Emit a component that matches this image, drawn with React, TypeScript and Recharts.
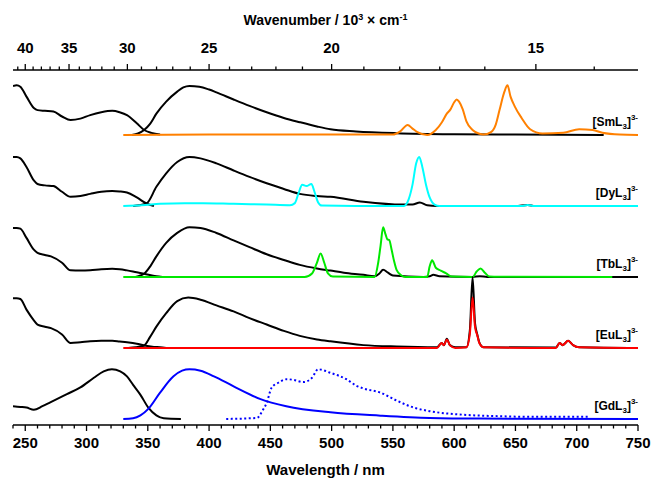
import { LineChart, Line, XAxis, YAxis, ReferenceDot } from "recharts";

type Pt = [number, number];

// [wavelength nm, normalised intensity] -- each panel is one unit tall
const smAbs: Pt[] = [[240,0.69],[243,0.7],[246,0.68],[251,0.54],[257,0.38],[260,0.35],[266,0.34],[273,0.33],[280,0.26],[287,0.21],[295,0.23],[303,0.28],[312,0.32],[321,0.34],[327,0.32],[333,0.28],[341,0.165],[347,0.07],[353,0.03],[360,0.005]];
const smLig: Pt[] = [[337,0],[342,0.02],[347,0.07],[352,0.16],[357,0.3],[365,0.47],[374,0.61],[379,0.67],[384,0.69],[392,0.68],[400,0.64],[406,0.6],[420,0.5],[433,0.41],[447,0.32],[461,0.24],[474,0.18],[488,0.12],[499,0.08],[520,0.05],[553,0.025],[600,0.01],[650,0.005],[722,0]];
const smEm: Pt[] = [[330,0],[400,0.005],[550,0.005],[556,0.05],[562,0.14],[566,0.09],[570,0.04],[578,0],[585,0.07],[590,0.18],[594,0.3],[597,0.36],[600,0.46],[602,0.5],[604,0.47],[607,0.36],[610,0.19],[615,0.07],[620,0.02],[624,0.005],[630,0.04],[634,0.15],[637,0.35],[641,0.61],[643.5,0.7],[646,0.54],[649.5,0.4],[655,0.24],[662,0.08],[672,0.02],[689,0.03],[702,0.08],[713,0.07],[721,0.03],[735,0.005],[750,0]];

const dyAbs: Pt[] = [[240,0.69],[243,0.69],[246,0.67],[251,0.55],[257,0.36],[260,0.31],[266,0.29],[273,0.28],[280,0.2],[287,0.13],[295,0.14],[303,0.17],[312,0.2],[321,0.21],[327,0.205],[333,0.19],[341,0.12],[349,0.035],[355,0]];
const dyLig: Pt[] = [[338,0],[343,0.01],[349,0.035],[357,0.27],[365,0.46],[374,0.62],[384,0.69],[393,0.67],[406,0.6],[420,0.5],[433,0.41],[447,0.32],[461,0.24],[474,0.17],[488,0.14],[499,0.13],[526,0.06],[558,0.02],[566,0.02],[572,0.05],[578,0.01],[586,0],[650,0],[660,0.015],[666,0],[740,0]];
const dyEm: Pt[] = [[330,0],[345,0.01],[360,0.03],[380,0.04],[395,0.04],[420,0.03],[447,0.02],[466,0.01],[470,0.04],[473,0.18],[476,0.3],[479.5,0.28],[483.5,0.31],[486,0.2],[489,0.05],[492,0.005],[520,0],[559,0],[563,0.1],[566,0.3],[569,0.6],[571.5,0.69],[574,0.55],[577,0.3],[580,0.12],[584,0.02],[588,0],[655,0],[660,0.015],[665,0],[750,0]];

const tbAbs: Pt[] = [[240,0.69],[243,0.69],[246,0.68],[251,0.55],[257,0.385],[260,0.34],[266,0.31],[271,0.29],[280,0.2],[287,0.093],[295,0.09],[303,0.095],[312,0.11],[321,0.117],[327,0.11],[333,0.093],[341,0.065],[347,0.045],[357,0.01],[362,0]];
const tbLig: Pt[] = [[340,0],[344,0.02],[347,0.045],[352,0.15],[357,0.29],[365,0.48],[374,0.62],[384,0.7],[393,0.69],[406,0.62],[420,0.515],[433,0.42],[447,0.32],[461,0.24],[474,0.17],[488,0.12],[499,0.09],[510,0.06],[526,0.03],[535,0.01],[539,0.05],[542,0.1],[546,0.06],[550,0.02],[575,0],[580,0.01],[583,0.03],[588,0.01],[615,0],[621,0.01],[627,0],[750,0]];
const tbEm: Pt[] = [[330,0],[478,0],[484,0.05],[488,0.2],[491,0.33],[494,0.2],[497,0.05],[501,0.005],[535,0],[538,0.2],[540,0.45],[542,0.7],[544,0.6],[545.5,0.53],[547,0.52],[549,0.38],[551,0.22],[553,0.1],[557,0.02],[560,0],[578,0],[580,0.15],[582,0.235],[585,0.13],[589,0.09],[593.5,0.05],[598,0.005],[615,0],[618.5,0.08],[621.5,0.12],[625,0.06],[629,0.005],[729,0]];

const euAbs: Pt[] = [[240,0.7],[243,0.7],[246,0.69],[251,0.54],[257,0.39],[260,0.33],[266,0.3],[271,0.28],[280,0.19],[287,0.07],[295,0.08],[303,0.093],[312,0.1],[321,0.1],[327,0.09],[333,0.08],[341,0.06],[347,0.035],[355,0.015],[360,0.01],[365,0]];
const euLig: Pt[] = [[334,0],[340,0.01],[347,0.035],[352,0.16],[357,0.3],[365,0.49],[374,0.66],[383,0.71],[393,0.68],[406,0.6],[420,0.515],[433,0.42],[447,0.33],[461,0.24],[474,0.17],[488,0.12],[499,0.093],[526,0.04],[553,0.02],[586,0.01],[589.7,0.07],[591.6,0.04],[594,0.13],[596.5,0.04],[601,0.01],[610,0.01],[612.8,0.25],[615,1.0],[617,0.35],[619,0.18],[620.5,0.08],[624,0.01],[683,0.005],[686,0.07],[688.5,0.04],[693,0.1],[697,0.04],[702,0.01],[750,0]];
const euEm: Pt[] = [[330,0],[586,0],[589.7,0.07],[591.6,0.04],[594,0.12],[596.5,0.04],[601,0],[610,0.01],[612.8,0.2],[615,0.71],[617,0.3],[619,0.17],[620.5,0.07],[624,0.01],[683,0],[686,0.07],[688.5,0.04],[693,0.1],[697,0.04],[702,0.01],[750,0]];

const gdAbs: Pt[] = [[240,0.18],[246,0.17],[251,0.16],[257,0.13],[264,0.18],[270,0.23],[284,0.35],[295,0.445],[306,0.58],[314,0.67],[320.7,0.7],[327.5,0.67],[333,0.6],[338,0.48],[344,0.34],[350.6,0.155],[357,0.05],[363,0.01],[377,0]];
const gdEm: Pt[] = [[330,0],[338,0.01],[344,0.05],[350.6,0.145],[360,0.37],[371,0.6],[378,0.68],[384,0.7],[393,0.68],[404,0.6],[420,0.46],[442,0.28],[463,0.18],[499,0.093],[540,0.046],[580,0.014],[621,0.005],[750,0]];
const gdPhos: Pt[] = [[414,0],[439,0.015],[444,0.13],[447,0.225],[451,0.44],[456.5,0.51],[463.4,0.56],[469,0.55],[477,0.52],[484,0.58],[489,0.7],[499,0.65],[512,0.56],[520,0.47],[526,0.43],[540,0.37],[553,0.26],[567,0.16],[580,0.11],[607,0.06],[635,0.04],[662,0.03],[709,0.03]];

const wavelengthTicks = [240,250,260,270,280,290,300,310,320,330,340,350,360,370,380,390,400,410,420,430,440,450,460,470,480,490,500,510,520,530,540,550,560,570,580,590,600,610,620,630,640,650,660,670,680,690,700,710,720,730,740,750];
const wavenumberTicks = [41,40,39,38,37,36,35,34,33,32,31,30,29,28,27,26,25,24,23,22,21,20,19,18,17,16,15,14];

const FONT = "'Liberation Sans', Arial, sans-serif";

const panels = [
  { name: "Sm", offset: 4, abs: smAbs, lig: smLig, em: smEm, color: "#ff8000" },
  { name: "Dy", offset: 3, abs: dyAbs, lig: dyLig, em: dyEm, color: "#00ffff" },
  { name: "Tb", offset: 2, abs: tbAbs, lig: tbLig, em: tbEm, color: "#00e800" },
  { name: "Eu", offset: 1, abs: euAbs, lig: euLig, em: euEm, color: "#ff0000" },
];

const shift = (pts: Pt[], offset: number) => pts.map(([x, v]) => ({ x, y: v + offset }));

function BottomTick({ x, y, payload }: any) {
  const v = payload.value;
  const major = v % 50 === 0;
  return (
    <g>
      <line x1={x} x2={x} y1={y} y2={y + (major ? 6 : 3.5)} stroke="#000" strokeWidth={1.3} />
      {major && (
        <text x={x} y={y + 23} textAnchor="middle" fontFamily={FONT} fontWeight="bold" fontSize={15} fill="#000">
          {v}
        </text>
      )}
    </g>
  );
}

function TopTick({ x, y, payload }: any) {
  const wn = Math.round(10000 / payload.value);
  const major = wn % 5 === 0;
  return (
    <g>
      <line x1={x} x2={x} y1={y} y2={y - (major ? 6 : 3.5)} stroke="#000" strokeWidth={1.3} />
      {major && (
        <text x={x} y={y - 17} textAnchor="middle" fontFamily={FONT} fontWeight="bold" fontSize={15} fill="#000">
          {wn}
        </text>
      )}
    </g>
  );
}

function SeriesTag({ viewBox, name }: any) {
  return (
    <text x={viewBox.x} y={viewBox.y} textAnchor="end" fontFamily={FONT} fontWeight="bold" fontSize={12} fill="#000">
      [{name}L<tspan fontSize={8} dy={3}>3</tspan>
      <tspan dy={-3}>]</tspan>
      <tspan fontSize={8} dy={-6}>3-</tspan>
    </text>
  );
}

export default function App() {
  return (
    <div style={{ position: "absolute", left: 0, top: 0, width: 653, height: 479, background: "#fff" }}>
      <LineChart width={653} height={479} margin={{ top: 30, right: 15, bottom: 14, left: 13 }}>
        <XAxis
          dataKey="x"
          type="number"
          domain={[240, 750]}
          ticks={wavelengthTicks}
          interval={0}
          allowDataOverflow
          height={40}
          tickSize={0}
          tickMargin={0}
          tickLine={false}
          tick={<BottomTick />}
          axisLine={{ stroke: "#000", strokeWidth: 1.5 }}
          label={{
            content: ({ viewBox }: any) => (
              <text x={viewBox.x + viewBox.width / 2} y={viewBox.y + 50} textAnchor="middle" fontFamily={FONT} fontWeight="bold" fontSize={15} fill="#000">
                Wavelength / nm
              </text>
            ),
          }}
        />
        <XAxis
          xAxisId="top"
          orientation="top"
          dataKey="x"
          type="number"
          domain={[240, 750]}
          ticks={wavenumberTicks.map((w) => 10000 / w)}
          interval={0}
          allowDataOverflow
          height={40}
          tickSize={0}
          tickMargin={0}
          tickLine={false}
          tick={<TopTick />}
          axisLine={{ stroke: "#000", strokeWidth: 1.5 }}
          label={{
            content: ({ viewBox }: any) => (
              <text x={viewBox.x + viewBox.width / 2} y={viewBox.y - 5} textAnchor="middle" fontFamily={FONT} fontWeight="bold" fontSize={14} fill="#000">
                Wavenumber / 10<tspan fontSize={9} dy={-5}>3</tspan>
                <tspan dy={5}> × cm</tspan>
                <tspan fontSize={9} dy={-5}>-1</tspan>
              </text>
            ),
          }}
        />
        <YAxis hide type="number" domain={[-0.085, 4.915]} allowDataOverflow />

        {panels.map((p) => [
          <Line key={p.name + "abs"} data={shift(p.abs, p.offset)} dataKey="y" type="monotone" stroke="#000" strokeWidth={2} dot={false} isAnimationActive={false} />,
          <Line key={p.name + "lig"} data={shift(p.lig, p.offset)} dataKey="y" type="monotone" stroke="#000" strokeWidth={2} dot={false} isAnimationActive={false} />,
          <Line key={p.name + "em"} data={shift(p.em, p.offset)} dataKey="y" type="monotone" stroke={p.color} strokeWidth={2} dot={false} isAnimationActive={false} />,
        ])}
        <Line data={shift(gdAbs, 0)} dataKey="y" type="monotone" stroke="#000" strokeWidth={2} dot={false} isAnimationActive={false} />
        <Line data={shift(gdEm, 0)} dataKey="y" type="monotone" stroke="#0000ff" strokeWidth={2} dot={false} isAnimationActive={false} />
        <Line data={shift(gdPhos, 0)} dataKey="y" type="monotone" stroke="#0000ff" strokeWidth={2} strokeDasharray="2 2.5" dot={false} isAnimationActive={false} />

        {["Sm", "Dy", "Tb", "Eu", "Gd"].map((name, i) => (
          <ReferenceDot
            key={name + "tag"}
            x={750}
            y={4 - i + 0.125}
            r={0}
            fill="none"
            stroke="none"
            label={{ content: (props: any) => <SeriesTag {...props} name={name} /> }}
          />
        ))}
      </LineChart>
    </div>
  );
}
